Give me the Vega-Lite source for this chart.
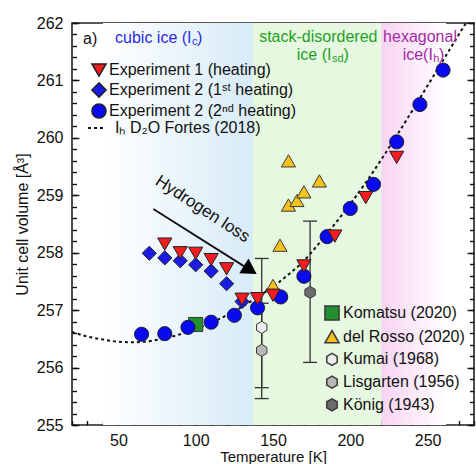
{
  "$schema": "https://vega.github.io/schema/vega-lite/v6.json",
  "width": 402,
  "height": 402,
  "autosize": {"type": "none"},
  "padding": {"left": 72, "top": 23, "right": 2, "bottom": 39},
  "background": "white",
  "datasets": {
    "curve": [
      {"T": 20, "V": 256.62}, {"T": 30, "V": 256.54}, {"T": 40, "V": 256.49}, {"T": 50, "V": 256.45},
      {"T": 60, "V": 256.44}, {"T": 70, "V": 256.46}, {"T": 80, "V": 256.51}, {"T": 90, "V": 256.58},
      {"T": 100, "V": 256.67}, {"T": 110, "V": 256.78}, {"T": 120, "V": 256.91}, {"T": 130, "V": 257.06},
      {"T": 140, "V": 257.23}, {"T": 150, "V": 257.41}, {"T": 160, "V": 257.62}, {"T": 170, "V": 257.86},
      {"T": 180, "V": 258.17}, {"T": 190, "V": 258.5}, {"T": 200, "V": 258.85}, {"T": 210, "V": 259.22},
      {"T": 220, "V": 259.62}, {"T": 230, "V": 260.04}, {"T": 240, "V": 260.47}, {"T": 250, "V": 260.91},
      {"T": 260, "V": 261.35}, {"T": 270, "V": 261.79}, {"T": 280, "V": 262.23}
    ],
    "exp": [
      {"s": "Experiment 2 (1ˢᵗ heating)", "T": 70, "V": 257.99},
      {"s": "Experiment 2 (1ˢᵗ heating)", "T": 80, "V": 257.91},
      {"s": "Experiment 2 (1ˢᵗ heating)", "T": 90, "V": 257.86},
      {"s": "Experiment 2 (1ˢᵗ heating)", "T": 100, "V": 257.79},
      {"s": "Experiment 2 (1ˢᵗ heating)", "T": 110, "V": 257.68},
      {"s": "Experiment 2 (1ˢᵗ heating)", "T": 120, "V": 257.46},
      {"s": "Experiment 2 (1ˢᵗ heating)", "T": 130, "V": 257.15},
      {"s": "Experiment 2 (2ⁿᵈ heating)", "T": 65, "V": 256.58},
      {"s": "Experiment 2 (2ⁿᵈ heating)", "T": 80, "V": 256.59},
      {"s": "Experiment 2 (2ⁿᵈ heating)", "T": 95, "V": 256.7},
      {"s": "Experiment 2 (2ⁿᵈ heating)", "T": 110, "V": 256.79},
      {"s": "Experiment 2 (2ⁿᵈ heating)", "T": 125, "V": 256.91},
      {"s": "Experiment 2 (2ⁿᵈ heating)", "T": 140, "V": 257.04},
      {"s": "Experiment 2 (2ⁿᵈ heating)", "T": 155, "V": 257.23},
      {"s": "Experiment 2 (2ⁿᵈ heating)", "T": 170, "V": 257.59},
      {"s": "Experiment 2 (2ⁿᵈ heating)", "T": 185, "V": 258.28},
      {"s": "Experiment 2 (2ⁿᵈ heating)", "T": 200, "V": 258.77},
      {"s": "Experiment 2 (2ⁿᵈ heating)", "T": 215, "V": 259.19},
      {"s": "Experiment 2 (2ⁿᵈ heating)", "T": 230, "V": 259.93},
      {"s": "Experiment 2 (2ⁿᵈ heating)", "T": 245, "V": 260.58},
      {"s": "Experiment 2 (2ⁿᵈ heating)", "T": 260, "V": 261.18},
      {"s": "Experiment 1 (heating)", "T": 80, "V": 258.15},
      {"s": "Experiment 1 (heating)", "T": 90, "V": 258.0},
      {"s": "Experiment 1 (heating)", "T": 100, "V": 257.99},
      {"s": "Experiment 1 (heating)", "T": 110, "V": 257.88},
      {"s": "Experiment 1 (heating)", "T": 120, "V": 257.72},
      {"s": "Experiment 1 (heating)", "T": 130, "V": 257.19},
      {"s": "Experiment 1 (heating)", "T": 140, "V": 257.2},
      {"s": "Experiment 1 (heating)", "T": 150, "V": 257.26},
      {"s": "Experiment 1 (heating)", "T": 170, "V": 257.77},
      {"s": "Experiment 1 (heating)", "T": 190, "V": 258.29},
      {"s": "Experiment 1 (heating)", "T": 210, "V": 258.96},
      {"s": "Experiment 1 (heating)", "T": 230, "V": 259.66}
    ],
    "lit": [
      {"s": "Komatsu (2020)", "T": 100, "V": 256.75},
      {"s": "del Rosso (2020)", "T": 150, "V": 257.43},
      {"s": "del Rosso (2020)", "T": 154.5, "V": 258.13},
      {"s": "del Rosso (2020)", "T": 160, "V": 258.83},
      {"s": "del Rosso (2020)", "T": 165.5, "V": 258.91},
      {"s": "del Rosso (2020)", "T": 170, "V": 259.06},
      {"s": "del Rosso (2020)", "T": 180, "V": 259.25},
      {"s": "del Rosso (2020)", "T": 160, "V": 259.6},
      {"s": "Kumai (1968)", "T": 142.7, "V": 256.7},
      {"s": "Lisgarten (1956)", "T": 142.7, "V": 256.3},
      {"s": "König (1943)", "T": 174, "V": 257.31}
    ],
    "bars": [
      {"s": "Kumai (1968)", "T": 142.7, "lo": 255.46, "hi": 257.9},
      {"s": "Lisgarten (1956)", "T": 142.7, "lo": 255.65, "hi": 257.12},
      {"s": "König (1943)", "T": 174, "lo": 256.09, "hi": 258.55}
    ]
  },
  "layer": [
    {
      "data": {"values": [{"lo": 40, "hi": 137}]},
      "mark": {"type": "rect", "fill": {"gradient": "linear", "x1": 0, "y1": 0, "x2": 1, "y2": 0,
        "stops": [{"offset": 0, "color": "#ffffff"}, {"offset": 1, "color": "#d7ebf7"}]}},
      "encoding": {
        "x": {"field": "lo", "type": "quantitative", "scale": {"domain": [20, 280], "nice": false, "zero": false}, "axis": null},
        "x2": {"field": "hi"}
      }
    },
    {
      "data": {"values": [{"lo": 137, "hi": 220}]},
      "mark": {"type": "rect", "fill": "#e7f8e1"},
      "encoding": {
        "x": {"field": "lo", "type": "quantitative", "scale": {"domain": [20, 280], "nice": false, "zero": false}, "axis": null},
        "x2": {"field": "hi"}
      }
    },
    {
      "data": {"values": [{"lo": 220, "hi": 262}]},
      "mark": {"type": "rect", "fill": {"gradient": "linear", "x1": 0, "y1": 0, "x2": 1, "y2": 0,
        "stops": [{"offset": 0, "color": "#f8d4f3"}, {"offset": 1, "color": "#ffffff"}]}},
      "encoding": {
        "x": {"field": "lo", "type": "quantitative", "scale": {"domain": [20, 280], "nice": false, "zero": false}, "axis": null},
        "x2": {"field": "hi"}
      }
    },
    {
      "data": {"name": "curve"},
      "mark": {"type": "line", "stroke": "#111", "strokeWidth": 2, "interpolate": "monotone", "clip": true},
      "encoding": {
        "x": {"field": "T", "type": "quantitative", "scale": {"domain": [20, 280], "nice": false, "zero": false},
          "axis": {"orient": "bottom", "values": [50, 100, 150, 200, 250], "tickSize": -7, "labelPadding": 14,
            "title": "Temperature [K]", "titlePadding": 1, "titleFontSize": 15}},
        "y": {"field": "V", "type": "quantitative", "scale": {"domain": [255, 262], "nice": false, "zero": false},
          "axis": {"orient": "left", "values": [255, 256, 257, 258, 259, 260, 261, 262], "tickSize": -7, "labelPadding": 16,
            "format": "d", "title": "Unit cell volume [Å³]", "titlePadding": 6}},
        "strokeDash": {"datum": "Iₕ D₂O Fortes (2018)", "type": "nominal",
          "scale": {"domain": ["Iₕ D₂O Fortes (2018)"], "range": [[3, 3]]},
          "legend": {"orient": "none", "legendX": 15, "legendY": 95, "title": null, "symbolSize": 324, "symbolStrokeWidth": 1.8,
            "labelOffset": 8, "padding": 0}}
      }
    },
    {
      "data": {"name": "bars"},
      "mark": {"type": "rule", "stroke": "#333", "strokeWidth": 1.3},
      "encoding": {
        "x": {"field": "T", "type": "quantitative", "scale": {"domain": [20, 280], "nice": false, "zero": false},
          "axis": {"orient": "bottom", "values": [20, 30, 40, 50, 60, 70, 80, 90, 100, 110, 120, 130, 140, 150, 160, 170, 180, 190, 200, 210, 220, 230, 240, 250, 260, 270, 280],
            "tickSize": -4.5, "labels": false, "title": null}},
        "y": {"field": "lo", "type": "quantitative", "scale": {"domain": [255, 262], "nice": false, "zero": false},
          "axis": {"orient": "left", "values": [255, 255.2, 255.4, 255.6, 255.8, 256, 256.2, 256.4, 256.6, 256.8, 257, 257.2, 257.4, 257.6, 257.8, 258, 258.2, 258.4, 258.6, 258.8, 259, 259.2, 259.4, 259.6, 259.8, 260, 260.2, 260.4, 260.6, 260.8, 261, 261.2, 261.4, 261.6, 261.8, 262],
            "tickSize": -4.5, "labels": false, "title": null}},
        "y2": {"field": "hi"}
      }
    },
    {
      "data": {"name": "bars"},
      "mark": {"type": "tick", "orient": "horizontal", "size": 14, "thickness": 1.3, "color": "#333", "opacity": 1},
      "encoding": {
        "x": {"field": "T", "type": "quantitative", "scale": {"domain": [20, 280], "nice": false, "zero": false}, "axis": null},
        "y": {"field": "lo", "type": "quantitative", "scale": {"domain": [255, 262], "nice": false, "zero": false},
          "axis": {"orient": "right", "values": [255, 256, 257, 258, 259, 260, 261, 262], "tickSize": -7, "labels": false, "title": null}}
      }
    },
    {
      "data": {"name": "bars"},
      "mark": {"type": "tick", "orient": "horizontal", "size": 14, "thickness": 1.3, "color": "#333", "opacity": 1},
      "encoding": {
        "x": {"field": "T", "type": "quantitative", "scale": {"domain": [20, 280], "nice": false, "zero": false}, "axis": null},
        "y": {"field": "hi", "type": "quantitative", "scale": {"domain": [255, 262], "nice": false, "zero": false},
          "axis": {"orient": "right", "values": [255, 255.2, 255.4, 255.6, 255.8, 256, 256.2, 256.4, 256.6, 256.8, 257, 257.2, 257.4, 257.6, 257.8, 258, 258.2, 258.4, 258.6, 258.8, 259, 259.2, 259.4, 259.6, 259.8, 260, 260.2, 260.4, 260.6, 260.8, 261, 261.2, 261.4, 261.6, 261.8, 262],
            "tickSize": -4.5, "labels": false, "title": null}}
      }
    },
    {
      "data": {"name": "lit"},
      "mark": {"type": "point", "filled": true, "size": 200, "stroke": "#3a3a3a", "strokeWidth": 1, "opacity": 1},
      "encoding": {
        "x": {"field": "T", "type": "quantitative", "scale": {"domain": [20, 280], "nice": false, "zero": false}, "axis": null},
        "y": {"field": "V", "type": "quantitative", "scale": {"domain": [255, 262], "nice": false, "zero": false}, "axis": null},
        "fill": {"field": "s", "type": "nominal",
          "scale": {"domain": ["Komatsu (2020)", "del Rosso (2020)", "Kumai (1968)", "Lisgarten (1956)", "König (1943)"],
            "range": ["#22902f", "#f4c21e", "#ececec", "#b8b8b8", "#6c6c6c"]},
          "legend": {"orient": "none", "legendX": 252, "legendY": 282, "title": null, "symbolSize": 200, "labelOffset": 3, "rowPadding": 2.7, "padding": 0,
            "encode": {"symbols": {"stroke": {"value": "#3a3a3a"}, "strokeWidth": {"value": 1}, "opacity": {"value": 1}}}}},
        "shape": {"field": "s", "type": "nominal",
          "scale": {"domain": ["Komatsu (2020)", "del Rosso (2020)", "Kumai (1968)", "Lisgarten (1956)", "König (1943)"],
            "range": ["square", "triangle-up", "M0,-0.85L0.736,-0.425L0.736,0.425L0,0.85L-0.736,0.425L-0.736,-0.425Z", "M0,-0.85L0.736,-0.425L0.736,0.425L0,0.85L-0.736,0.425L-0.736,-0.425Z", "M0,-0.85L0.736,-0.425L0.736,0.425L0,0.85L-0.736,0.425L-0.736,-0.425Z"]},
          "legend": {"orient": "none", "legendX": 252, "legendY": 282, "title": null, "symbolSize": 200, "labelOffset": 3, "rowPadding": 2.7, "padding": 0,
            "encode": {"symbols": {"stroke": {"value": "#3a3a3a"}, "strokeWidth": {"value": 1}, "opacity": {"value": 1}}}}}
      }
    },
    {
      "data": {"name": "exp"},
      "mark": {"type": "point", "filled": true, "size": 200, "stroke": "#1e1e2a", "strokeWidth": 1, "opacity": 1},
      "encoding": {
        "x": {"field": "T", "type": "quantitative", "scale": {"domain": [20, 280], "nice": false, "zero": false}, "axis": null},
        "y": {"field": "V", "type": "quantitative", "scale": {"domain": [255, 262], "nice": false, "zero": false}, "axis": null},
        "fill": {"field": "s", "type": "nominal",
          "scale": {"domain": ["Experiment 1 (heating)", "Experiment 2 (1ˢᵗ heating)", "Experiment 2 (2ⁿᵈ heating)"],
            "range": ["#f41c1c", "#1b1be3", "#0a0aef"]},
          "legend": {"orient": "none", "legendX": 19, "legendY": 39, "title": null, "symbolSize": 200, "labelOffset": 2, "rowPadding": -1, "padding": 0,
            "encode": {"symbols": {"stroke": {"value": "#1e1e2a"}, "strokeWidth": {"value": 1}, "opacity": {"value": 1}}}}},
        "shape": {"field": "s", "type": "nominal",
          "scale": {"domain": ["Experiment 1 (heating)", "Experiment 2 (1ˢᵗ heating)", "Experiment 2 (2ⁿᵈ heating)"],
            "range": ["triangle-down", "diamond", "circle"]},
          "legend": {"orient": "none", "legendX": 19, "legendY": 39, "title": null, "symbolSize": 200, "labelOffset": 2, "rowPadding": -1, "padding": 0,
            "encode": {"symbols": {"stroke": {"value": "#1e1e2a"}, "strokeWidth": {"value": 1}, "opacity": {"value": 1}}}}}
      }
    },
    {
      "data": {"values": [{"T0": 72.6, "V0": 258.76, "T1": 134.5, "V1": 257.71}]},
      "mark": {"type": "rule", "stroke": "#111", "strokeWidth": 1.8},
      "encoding": {
        "x": {"field": "T0", "type": "quantitative", "scale": {"domain": [20, 280], "nice": false, "zero": false}, "axis": null},
        "y": {"field": "V0", "type": "quantitative", "scale": {"domain": [255, 262], "nice": false, "zero": false}, "axis": null},
        "x2": {"field": "T1"},
        "y2": {"field": "V1"}
      }
    },
    {
      "data": {"values": [{"T": 135.3, "V": 257.7}]},
      "mark": {"type": "point", "shape": "triangle-right", "angle": 32, "size": 300, "filled": true, "color": "#000", "opacity": 1},
      "encoding": {
        "x": {"field": "T", "type": "quantitative", "scale": {"domain": [20, 280], "nice": false, "zero": false}, "axis": null},
        "y": {"field": "V", "type": "quantitative", "scale": {"domain": [255, 262], "nice": false, "zero": false}, "axis": null}
      }
    },
    {
      "data": {"values": [{"T": 104.4, "V": 258.76, "txt": "Hydrogen loss"}]},
      "mark": {"type": "text", "angle": 33, "fontSize": 17, "align": "center", "baseline": "middle", "color": "#111"},
      "encoding": {
        "x": {"field": "T", "type": "quantitative", "scale": {"domain": [20, 280], "nice": false, "zero": false}, "axis": null},
        "y": {"field": "V", "type": "quantitative", "scale": {"domain": [255, 262], "nice": false, "zero": false}, "axis": null},
        "text": {"field": "txt"}
      }
    },
    {
      "data": {"values": [
        {"T": 179.3, "V": 261.76, "txt": "stack-disordered", "g": "sd"},
        {"T": 245.1, "V": 261.76, "txt": "hexagonal", "g": "hex"}
      ]},
      "mark": {"type": "text", "fontSize": 16, "align": "center", "baseline": "middle"},
      "encoding": {
        "x": {"field": "T", "type": "quantitative", "scale": {"domain": [20, 280], "nice": false, "zero": false}, "axis": null},
        "y": {"field": "V", "type": "quantitative", "scale": {"domain": [255, 262], "nice": false, "zero": false}, "axis": null},
        "text": {"field": "txt"},
        "color": {"field": "g", "type": "nominal", "scale": {"domain": ["cubic", "sd", "hex", "plain"], "range": ["#2a2ae0", "#22a024", "#a62aa6", "#111111"]}, "legend": null}
      }
    },
    {
      "data": {"values": [
        {"T": 97.3, "V": 261.74, "txt": "cubic ice (I", "g": "cubic"},
        {"T": 187.8, "V": 261.45, "txt": "ice (I", "g": "sd"},
        {"T": 253.4, "V": 261.45, "txt": "ice(I", "g": "hex"}
      ]},
      "mark": {"type": "text", "fontSize": 16, "align": "right", "baseline": "middle"},
      "encoding": {
        "x": {"field": "T", "type": "quantitative", "scale": {"domain": [20, 280], "nice": false, "zero": false}, "axis": null},
        "y": {"field": "V", "type": "quantitative", "scale": {"domain": [255, 262], "nice": false, "zero": false}, "axis": null},
        "text": {"field": "txt"},
        "color": {"field": "g", "type": "nominal", "scale": {"domain": ["cubic", "sd", "hex", "plain"], "range": ["#2a2ae0", "#22a024", "#a62aa6", "#111111"]}, "legend": null}
      }
    },
    {
      "data": {"values": [
        {"T": 97.3, "V": 261.74, "txt": "c", "g": "cubic"},
        {"T": 187.8, "V": 261.45, "txt": "sd", "g": "sd"},
        {"T": 253.4, "V": 261.45, "txt": "h", "g": "hex"}
      ]},
      "mark": {"type": "text", "fontSize": 11, "align": "left", "baseline": "middle", "dx": 0.5, "dy": 4},
      "encoding": {
        "x": {"field": "T", "type": "quantitative", "scale": {"domain": [20, 280], "nice": false, "zero": false}, "axis": null},
        "y": {"field": "V", "type": "quantitative", "scale": {"domain": [255, 262], "nice": false, "zero": false}, "axis": null},
        "text": {"field": "txt"},
        "color": {"field": "g", "type": "nominal", "scale": {"domain": ["cubic", "sd", "hex", "plain"], "range": ["#2a2ae0", "#22a024", "#a62aa6", "#111111"]}, "legend": null}
      }
    },
    {
      "data": {"values": [
        {"T": 27.1, "V": 261.72, "txt": "a)", "g": "plain"},
        {"T": 100.9, "V": 261.74, "txt": ")", "g": "cubic"},
        {"T": 195.6, "V": 261.45, "txt": ")", "g": "sd"},
        {"T": 257.4, "V": 261.45, "txt": ")", "g": "hex"}
      ]},
      "mark": {"type": "text", "fontSize": 16, "align": "left", "baseline": "middle"},
      "encoding": {
        "x": {"field": "T", "type": "quantitative", "scale": {"domain": [20, 280], "nice": false, "zero": false}, "axis": null},
        "y": {"field": "V", "type": "quantitative", "scale": {"domain": [255, 262], "nice": false, "zero": false}, "axis": null},
        "text": {"field": "txt"},
        "color": {"field": "g", "type": "nominal", "scale": {"domain": ["cubic", "sd", "hex", "plain"], "range": ["#2a2ae0", "#22a024", "#a62aa6", "#111111"]}, "legend": null}
      }
    }
  ],
  "resolve": {
    "scale": {"fill": "independent", "shape": "independent"},
    "axis": {"x": "independent", "y": "independent"}
  },
  "config": {
    "font": "Liberation Sans",
    "view": {"stroke": "#222", "strokeWidth": 1.6},
    "axis": {
      "domain": false, "grid": false,
      "tickColor": "#111", "tickWidth": 1.4,
      "labelFont": "Liberation Sans", "labelFontSize": 16, "labelColor": "#111",
      "titleFont": "Liberation Sans", "titleFontSize": 16, "titleColor": "#111", "titleFontWeight": "normal",
      "labelOverlap": false
    },
    "legend": {"labelFont": "Liberation Sans", "labelFontSize": 16, "labelColor": "#111", "labelLimit": 400},
    "text": {"font": "Liberation Sans"}
  }
}
